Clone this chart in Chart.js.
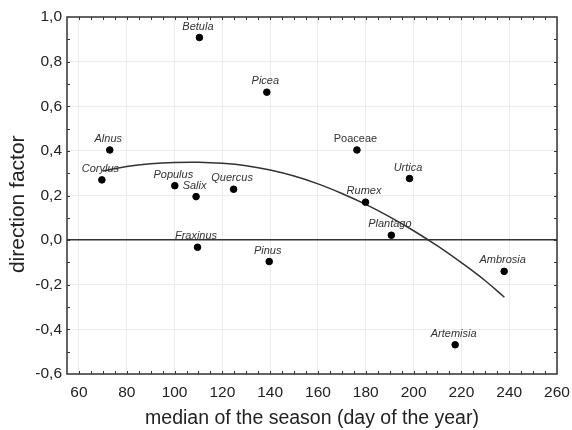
<!DOCTYPE html>
<html>
<head>
<meta charset="utf-8">
<script src="https://cdn.jsdelivr.net/npm/chart.js@4/dist/chart.umd.min.js"></script>
<style>
  html, body { margin: 0; padding: 0; background: #fff; }
  #wrap { width: 572px; height: 430px; }
</style>
</head>
<body>
<div id="wrap"><canvas id="c" width="572" height="430"></canvas></div>
<script>
// ---- data ----
const taxa = ['Betula','Picea','Alnus','Corylus','Populus','Salix','Quercus','Poaceae','Urtica','Rumex','Fraxinus','Pinus','Plantago','Ambrosia','Artemisia'];
const medianDay = [110.4, 138.6, 72.9, 69.6, 100.1, 109.0, 124.7, 176.3, 198.3, 179.9, 109.6, 139.6, 190.7, 237.9, 217.4];
const directionFactor = [0.908, 0.663, 0.404, 0.270, 0.244, 0.195, 0.228, 0.404, 0.276, 0.170, -0.032, -0.096, 0.022, -0.140, -0.469];

// fitted curve, read at sample positions
const curveX = [70, 80, 90, 100, 110, 120, 130, 140, 150, 160, 170, 180, 190, 200, 210, 220, 230, 238];
const curveY = [0.310, 0.330, 0.342, 0.348, 0.349, 0.344, 0.333, 0.314, 0.287, 0.252, 0.209, 0.160, 0.104, 0.042, -0.026, -0.101, -0.182, -0.256];

const xTicks = [60, 80, 100, 120, 140, 160, 180, 200, 220, 240, 260];
const yTicks = [-0.6, -0.4, -0.2, 0.0, 0.2, 0.4, 0.6, 0.8, 1.0];

const points = taxa.map((t, i) => ({ x: medianDay[i], y: directionFactor[i] }));
const curve = curveX.map((x, i) => ({ x: x, y: curveY[i] }));

const FONT = "'Liberation Sans', Arial, sans-serif";
const uprightLabels = ['Poaceae'];

const framePlugin = {
  id: 'frame',
  afterDatasetsDraw(chart) {
    const { ctx, chartArea: a, scales } = chart;
    const xs = scales.x, ys = scales.y;
    ctx.save();
    // minor ticks, drawn inward
    ctx.strokeStyle = '#333';
    ctx.lineWidth = 1;
    ctx.beginPath();
    for (let v = 55; v <= 260; v += 5) {
      const px = Math.round(xs.getPixelForValue(v)) + 0.5;
      if (px <= a.left + 1 || px >= a.right - 1) continue;
      ctx.moveTo(px, a.bottom); ctx.lineTo(px, a.bottom - 3);
      ctx.moveTo(px, a.top); ctx.lineTo(px, a.top + 3);
    }
    for (let k = -6; k <= 10; k++) {
      const py = Math.round(ys.getPixelForValue(k / 10)) + 0.5;
      if (py <= a.top + 1 || py >= a.bottom - 1) continue;
      ctx.moveTo(a.left, py); ctx.lineTo(a.left + 3, py);
      ctx.moveTo(a.right, py); ctx.lineTo(a.right - 3, py);
    }
    ctx.stroke();
    // frame
    ctx.lineWidth = 1.5;
    ctx.strokeStyle = '#333';
    ctx.strokeRect(a.left, a.top, a.right - a.left, a.bottom - a.top);

    // point labels
    const meta = chart.getDatasetMeta(1);
    ctx.fillStyle = '#333';
    ctx.textAlign = 'center';
    ctx.textBaseline = 'middle';
    meta.data.forEach((el, i) => {
      const name = taxa[i];
      const italic = uprightLabels.indexOf(name) < 0;
      ctx.font = (italic ? 'italic ' : '') + '11px ' + FONT;
      ctx.fillText(name, el.x - 1.5, el.y - 11);
    });
    ctx.restore();
  }
};

new Chart(document.getElementById('c'), {
  type: 'scatter',
  data: {
    datasets: [
      {
        label: 'fit',
        data: curve,
        showLine: true,
        borderColor: '#333',
        borderWidth: 1.5,
        pointRadius: 0,
        tension: 0.4,
        order: 2
      },
      {
        label: 'taxa',
        data: points,
        backgroundColor: '#000',
        borderColor: '#000',
        pointRadius: 3.3,
        order: 1
      }
    ]
  },
  options: {
    responsive: false,
    animation: false,
    devicePixelRatio: 1,
    layout: { padding: { top: 17, right: 15, left: 0, bottom: 0 } },
    plugins: { legend: { display: false }, tooltip: { enabled: false } },
    scales: {
      x: {
        type: 'linear',
        min: 55,
        max: 260,
        afterBuildTicks(scale) { scale.ticks = xTicks.map(v => ({ value: v })); },
        afterFit(scale) { scale.height = 56; scale.paddingLeft = 0; scale.paddingRight = 0; },
        ticks: {
          color: '#222',
          font: { family: FONT, size: 15.5 },
          padding: 9,
          maxRotation: 0,
          autoSkip: false,
          callback: v => String(v)
        },
        grid: { color: '#ececec', lineWidth: 1, drawTicks: false },
        border: { display: false },
        title: {
          display: true,
          text: 'median of the season (day of the year)',
          color: '#222',
          font: { family: FONT, size: 19.5 },
          padding: { top: 0, bottom: 0 }
        }
      },
      y: {
        type: 'linear',
        min: -0.6,
        max: 1.0,
        afterBuildTicks(scale) { scale.ticks = yTicks.map(v => ({ value: v })); },
        afterFit(scale) { scale.width = 67; scale.paddingTop = 0; scale.paddingBottom = 0; },
        ticks: {
          color: '#222',
          font: { family: FONT, size: 15.5 },
          padding: 5,
          autoSkip: false,
          callback: v => Number(v).toFixed(1).replace('.', ',')
        },
        grid: {
          drawTicks: false,
          color: c => (c.tick && Math.abs(c.tick.value) < 1e-9) ? '#333' : '#ececec',
          lineWidth: c => (c.tick && Math.abs(c.tick.value) < 1e-9) ? 1.5 : 1
        },
        border: { display: false },
        title: {
          display: true,
          text: 'direction factor   ',
          color: '#222',
          font: { family: FONT, size: 21 },
          padding: { top: 6, bottom: 0 }
        }
      }
    }
  },
  plugins: [framePlugin]
});
</script>
</body>
</html>
